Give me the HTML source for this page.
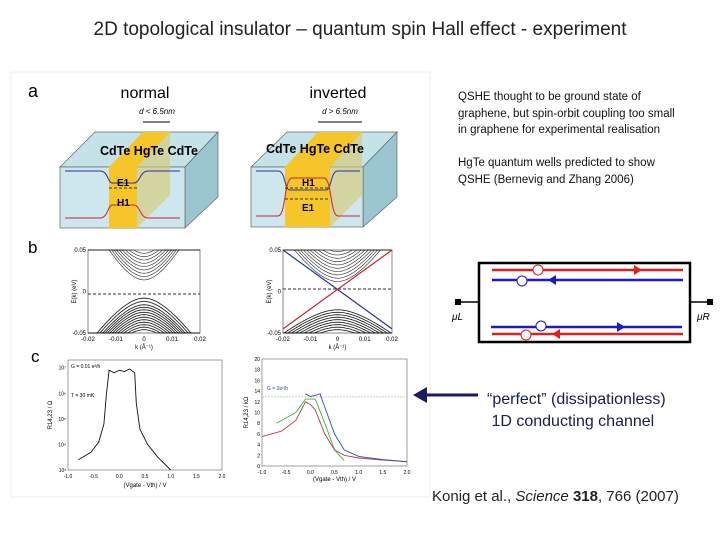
<!DOCTYPE html>
<html><head><meta charset="utf-8"><style>
body{margin:0;background:#fff;}
#root{position:relative;width:720px;height:540px;overflow:hidden;background:#fff;font-family:"Liberation Sans",sans-serif;}
.t{position:absolute;white-space:nowrap;}
</style></head><body>
<div id="root">
<div class="t" style="left:0;width:720px;text-align:center;top:19px;font-size:19px;color:#222;">2D topological insulator – quantum spin Hall effect - experiment</div>
<div class="t" style="left:458px;top:89px;font-size:11.5px;line-height:16.5px;color:#111;">QSHE thought to be ground state of<br>graphene, but spin-orbit coupling too small<br>in graphene for experimental realisation</div>
<div class="t" style="left:458px;top:155px;font-size:11.5px;line-height:16.5px;color:#111;">HgTe quantum wells predicted to show<br>QSHE (Bernevig and Zhang 2006)</div>
<div class="t" style="left:487px;top:389px;font-size:16px;line-height:22px;color:#1a1a55;">“perfect” (dissipationless)<br>&nbsp;1D conducting channel</div>
<div class="t" style="left:432px;top:488px;font-size:15px;color:#222;">Konig et al., <i>Science</i> <b>318</b>, 766 (2007)</div>
<svg id="fig" width="720" height="540" style="position:absolute;left:0;top:0" font-family="Liberation Sans, sans-serif">
<rect x="11" y="72" width="419" height="425" fill="none" stroke="#eee"/>
<text x="28" y="97" font-size="18">a</text>
<text x="28" y="253" font-size="17">b</text>
<text x="31" y="362" font-size="17">c</text>
<text x="145" y="98" font-size="16" text-anchor="middle">normal</text>
<text x="338" y="98" font-size="16" text-anchor="middle">inverted</text>
<text x="157" y="114" font-size="8" font-style="italic" text-anchor="middle">d &lt; 6.5nm</text>
<text x="340" y="114" font-size="8" font-style="italic" text-anchor="middle">d &gt; 6.5nm</text>
<line x1="143" y1="122" x2="170" y2="122" stroke="#000"/>
<line x1="318" y1="122" x2="362" y2="122" stroke="#000"/>
<g>
<polygon points="60,167 95,132 218,132 185,167" fill="#c4e3e9" stroke="#666" stroke-width="0.7"/>
<polygon points="185,167 218,132 218,197 185,228" fill="#9cc6cf" stroke="#666" stroke-width="0.7"/>
<rect x="60" y="167" width="125" height="61" fill="#cde7ec" stroke="#666" stroke-width="0.7"/>
<polygon points="109,167 143,132 170,132 137,167" fill="#f5c52a"/>
<rect x="109" y="167" width="28" height="61" fill="#f5c52a"/>
<polygon points="137,167 170,132 170,195 137,228" fill="#d9c870" opacity="0.6"/>
<path d="M65,171 L100,171 C108,171 108,183 112,183 L134,183 C140,183 140,171 148,171 L180,171" fill="none" stroke="#2233aa" stroke-width="1"/>
<path d="M65,218 L100,218 C108,218 108,205 112,205 L134,205 C140,205 140,218 148,218 L180,218" fill="none" stroke="#cc2233" stroke-width="1"/>
<line x1="109" y1="188" x2="137" y2="188" stroke="#333" stroke-dasharray="3,2"/>
<text x="100" y="155" font-size="12.5" font-weight="bold">CdTe HgTe CdTe</text>
<text x="117" y="186" font-size="10" font-weight="bold">E1</text>
<text x="117" y="206" font-size="10" font-weight="bold">H1</text>
</g>
<g>
<polygon points="251,167 287,132 397,132 363,167" fill="#c4e3e9" stroke="#666" stroke-width="0.7"/>
<polygon points="363,167 397,132 397,197 363,227" fill="#9cc6cf" stroke="#666" stroke-width="0.7"/>
<rect x="251" y="167" width="112" height="60" fill="#cde7ec" stroke="#666" stroke-width="0.7"/>
<polygon points="285,167 318,132 362,132 330,167" fill="#f5c52a"/>
<rect x="285" y="167" width="45" height="60" fill="#f5c52a"/>
<polygon points="330,167 362,132 362,195 330,227" fill="#d9c870" opacity="0.6"/>
<path d="M256,171 L278,171 C286,171 284,190 290,190 L326,190 C332,190 330,171 338,171 L360,171" fill="none" stroke="#2233aa"/>
<path d="M256,216 L278,216 C286,216 284,178 292,178 L324,178 C332,178 330,216 338,216 L360,216" fill="none" stroke="#cc2233"/>
<line x1="285" y1="188" x2="330" y2="188" stroke="#333" stroke-dasharray="3,2"/>
<line x1="285" y1="199" x2="330" y2="199" stroke="#333" stroke-dasharray="3,2"/>
<text x="266" y="153" font-size="12.5" font-weight="bold">CdTe HgTe CdTe</text>
<text x="302" y="186" font-size="10" font-weight="bold">H1</text>
<text x="302" y="211" font-size="10" font-weight="bold">E1</text>
</g>
<g id="bandL"></g>
<g id="bandR"></g>
<g id="plotL"></g>
<g id="plotR"></g>
<g>
<rect x="479" y="263" width="211" height="79" fill="#fff" stroke="#000" stroke-width="2.5"/>
<line x1="458" y1="302" x2="479" y2="302" stroke="#000" stroke-width="1.5"/>
<line x1="690" y1="302" x2="710" y2="302" stroke="#000" stroke-width="1.5"/>
<rect x="455" y="299" width="6" height="6" fill="#000"/><rect x="707" y="299" width="6" height="6" fill="#000"/>
<text x="452" y="320" font-size="10" font-style="italic">μL</text>
<text x="697" y="320" font-size="10" font-style="italic">μR</text>
<line x1="492" y1="270" x2="683" y2="270" stroke="#e0201c" stroke-width="2.5"/>
<line x1="492" y1="280" x2="683" y2="280" stroke="#1a1acc" stroke-width="2.5"/>
<line x1="491" y1="327" x2="682" y2="327" stroke="#1a1acc" stroke-width="2.5"/>
<line x1="492" y1="334" x2="683" y2="334" stroke="#e0201c" stroke-width="2.5"/>
<polygon points="634,265 634,275 642,270" fill="#e0201c"/>
<polygon points="556,275 556,285 548,280" fill="#1a1acc"/>
<polygon points="617,322 617,332 625,327" fill="#1a1acc"/>
<polygon points="560,329 560,339 552,334" fill="#e0201c"/>
<circle cx="538" cy="270" r="5" fill="#fff" stroke="#e0201c"/><circle cx="522" cy="281" r="5" fill="#fff" stroke="#1a1acc"/>
<circle cx="541" cy="326" r="5" fill="#fff" stroke="#1a1acc"/><circle cx="526" cy="335" r="5" fill="#fff" stroke="#e0201c"/>
</g>
<g>
<line x1="425" y1="395" x2="478" y2="395" stroke="#1a1a66" stroke-width="3"/>
<polygon points="413,395 427,387 427,403" fill="#1a1a66"/>
</g>
</svg>
</div>
<script>
// band structure data (subband energies at k=0, eV)
const bandOffsetsCond=[0.014,0.018,0.022,0.026,0.030,0.034,0.038,0.042,0.046];
const bandOffsetsVal=[-0.008,-0.012,-0.016,-0.019,-0.022,-0.025,-0.028,-0.031,-0.034,-0.037,-0.040,-0.043,-0.046];
const bandOffsetsCondInv=[0.012,0.016,0.020,0.024,0.028,0.032,0.036,0.040,0.044,0.048];
const bandOffsetsValInv=[-0.022,-0.025,-0.028,-0.031,-0.034,-0.037,-0.040,-0.043,-0.046];
const kTicks=["-0.02","-0.01","0","0.01","0.02"];
// log plot data (log10 R)
const logX=[-0.8,-0.55,-0.4,-0.3,-0.25,-0.2,-0.1,0,0.1,0.2,0.3,0.33,0.4,0.55,0.75,1.0];
const logY=[3.4,3.7,4.1,4.8,6.0,6.9,6.8,6.9,6.85,6.95,6.8,5.6,4.6,4.0,3.5,3.0];
const logTicks=["10³","10⁴","10⁵","10⁶","10⁷"];
const vTicks=["-1.0","-0.5","0.0","0.5","1.0","1.5","2.0"];
// linear plot data
const linX_red=[-1,-0.6,-0.3,-0.1,0,0.1,0.3,0.5,0.7,1.0,1.5,2.0];
const linY_red=[5.5,6.5,8.5,12,11.5,10.5,6,3,2,1.5,1.1,0.8];
const linX_green=[-0.7,-0.5,-0.3,-0.1,0.1,0.3,0.5,0.7];
const linY_green=[8,9,10,12.5,12.5,8,3,1];
const linX_blue=[-0.1,0,0.1,0.2,0.3,0.5,0.7,1.0,1.5,2.0];
const linY_blue=[13.5,13,13.2,13.5,11,6,3,1.8,1.2,0.8];
const linTicks=["0","2","4","6","8","10","12","14","16","18","20"];
const NS="http://www.w3.org/2000/svg";
function mk(tag,attrs,parent){const e=document.createElementNS(NS,tag);for(const k in attrs)e.setAttribute(k,attrs[k]);parent.appendChild(e);return e;}
function band(g,x0,x1,y0,y1,cond,val,inverted){
  const sx=k=>x0+(k+0.02)/0.04*(x1-x0), sy=E=>y1-(E+0.05)/0.1*(y1-y0);
  const fr=mk('rect',{x:x0,y:y0,width:x1-x0,height:y1-y0,fill:'#fff',stroke:'#555','stroke-width':0.7},g);
  
  const curve=(off,c)=>{let d='';for(let i=0;i<=80;i++){const k=-0.02+i*0.0005;let E=off+c*k*k/(1+Math.abs(k)*40);E=Math.max(-0.05,Math.min(0.05,E));d+=(i?'L':'M')+sx(k).toFixed(1)+','+sy(E).toFixed(1);}return d;};
  const cc=inverted?250:350, cv=inverted?-130:-250;
  cond.forEach(o=>{const p=mk('path',{d:curve(o,cc),fill:'none',stroke:'#222','stroke-width':0.6},g);});
  val.forEach(o=>{const p=mk('path',{d:curve(o,cv),fill:'none',stroke:'#111','stroke-width':0.8},g);});
  const z=mk('line',{x1:x0,x2:x1,y1:sy(inverted?0.003:-0.003),y2:sy(inverted?0.003:-0.003),stroke:'#333','stroke-dasharray':'3,2'},g);
  
  if(inverted){
    const a=mk('line',{x1:sx(-0.02),y1:sy(0.05),x2:sx(0.02),y2:sy(-0.045),stroke:'#2233aa','stroke-width':1.2},g);
    
    const b=mk('line',{x1:sx(-0.02),y1:sy(-0.045),x2:sx(0.02),y2:sy(0.05),stroke:'#cc2233','stroke-width':1.2},g);
    
  }
  kTicks.forEach((t,i)=>{const k=-0.02+i*0.01;const tx=mk('text',{x:sx(k),y:y1+8,'font-size':6,'text-anchor':'middle'},g);tx.textContent=t;});
  const xl=mk('text',{x:(x0+x1)/2,y:y1+16,'font-size':6,'text-anchor':'middle'},g);xl.textContent='k (Å⁻¹)';
  [['0.05',0.05],['0',0],['-0.05',-0.05]].forEach(([t,v])=>{const tx=mk('text',{x:x0-2,y:sy(v)+2,'font-size':6,'text-anchor':'end'},g);tx.textContent=t;});
  const yl=mk('text',{x:x0-12,y:(y0+y1)/2,'font-size':6,'text-anchor':'middle',transform:`rotate(-90 ${x0-12} ${(y0+y1)/2})`},g);yl.textContent='E(k) (eV)';
}
band(document.getElementById('bandL'),88,200,250,333,bandOffsetsCond,bandOffsetsVal,false);
band(document.getElementById('bandR'),283,392,250,333,bandOffsetsCondInv,bandOffsetsValInv,true);
function frame(g,x0,x1,y0,y1){const r=mk('rect',{x:x0,y:y0,width:x1-x0,height:y1-y0,fill:'#fff',stroke:'#777','stroke-width':0.7},g);}
function poly(g,xs,ys,sx,sy,col,name){let d='';xs.forEach((x,i)=>{d+=(i?'L':'M')+sx(x).toFixed(1)+','+sy(ys[i]).toFixed(1);});const p=mk('path',{d:d,fill:'none',stroke:col,'stroke-width':0.9},g);}
(function(){
  const g=document.getElementById('plotL');const x0=68,x1=222,y0=360,y1=470;
  const sx=v=>x0+(v+1)/3*(x1-x0), sy=v=>y1-(v-3)/4.3*(y1-y0);
  frame(g,x0,x1,y0,y1);
  poly(g,logX,logY,sx,sy,'#111','log-resistance-curve');
  vTicks.forEach((t,i)=>{const tx=mk('text',{x:sx(-1+i*0.5),y:y1+8,'font-size':5,'text-anchor':'middle'},g);tx.textContent=t;});
  logTicks.forEach((t,i)=>{const tx=mk('text',{x:x0-2,y:sy(3+i)+2,'font-size':5,'text-anchor':'end'},g);tx.textContent=t;});
  const a=mk('text',{x:(x0+x1)/2,y:y1+17,'font-size':6,'text-anchor':'middle'},g);a.textContent='(Vgate - Vth) / V';
  const b=mk('text',{x:x0+3,y:y0+8,'font-size':5},g);b.textContent='G = 0.01 e²/h';
  const c=mk('text',{x:x0+3,y:y0+37,'font-size':5},g);c.textContent='T = 30 mK';
  const d=mk('text',{x:x0-16,y:(y0+y1)/2,'font-size':6,'text-anchor':'middle',transform:`rotate(-90 ${x0-16} ${(y0+y1)/2})`},g);d.textContent='R14,23 / Ω';
})();
(function(){
  const g=document.getElementById('plotR');const x0=262,x1=407,y0=359,y1=466;
  const sx=v=>x0+(v+1)/3*(x1-x0), sy=v=>y1-v/20*(y1-y0);
  frame(g,x0,x1,y0,y1);
  const h=mk('line',{x1:x0,x2:x1,y1:sy(12.9),y2:sy(12.9),stroke:'#aaa','stroke-width':0.6,'stroke-dasharray':'2,1'},g);
  poly(g,linX_green,linY_green,sx,sy,'#3cb83c','series-green');
  poly(g,linX_red,linY_red,sx,sy,'#b0404a','series-red');
  poly(g,linX_blue,linY_blue,sx,sy,'#3050b0','series-blue');
  vTicks.forEach((t,i)=>{const tx=mk('text',{x:sx(-1+i*0.5),y:y1+8,'font-size':5,'text-anchor':'middle'},g);tx.textContent=t;});
  linTicks.forEach((t,i)=>{const tx=mk('text',{x:x0-2,y:sy(i*2)+2,'font-size':5,'text-anchor':'end'},g);tx.textContent=t;});
  const a=mk('text',{x:(x0+x1)/2,y:y1+15,'font-size':6,'text-anchor':'middle'},g);a.textContent='(Vgate - Vth) / V';
  const b=mk('text',{x:x0+5,y:sy(14.2),'font-size':5,fill:'#3050b0'},g);b.textContent='G = 2e²/h';
  const d=mk('text',{x:x0-14,y:(y0+y1)/2,'font-size':6,'text-anchor':'middle',transform:`rotate(-90 ${x0-14} ${(y0+y1)/2})`},g);d.textContent='R14,23 / kΩ';
})();
</script>
</body></html>
